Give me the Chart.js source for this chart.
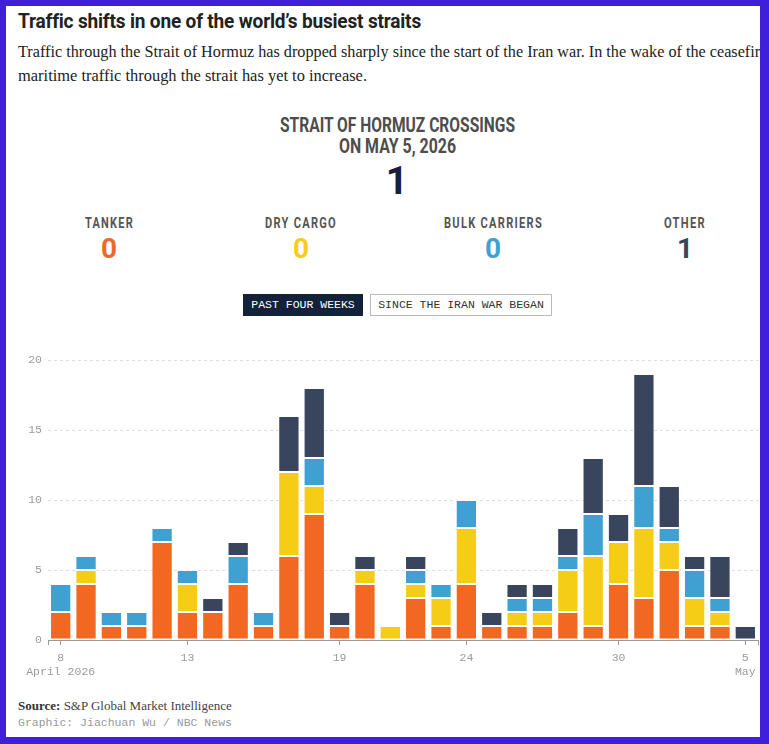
<!DOCTYPE html>
<html><head><meta charset="utf-8">
<script src="https://cdn.jsdelivr.net/npm/chart.js@4.4.1/dist/chart.umd.min.js"></script>
<style>
html,body{margin:0;padding:0;}
body{width:769px;height:744px;background:#3f1fd9;position:relative;overflow:hidden;}
#page{position:absolute;left:6px;top:6px;width:754px;height:731px;background:#fff;overflow:hidden;}
#c{position:absolute;left:-6px;top:-6px;width:769px;height:744px;}
.a{position:absolute;white-space:nowrap;line-height:1;transform-origin:0 0;}
.cond{font-family:Roboto,sans-serif;font-weight:700;}
#title{font-size:21px;color:#222;letter-spacing:-0.2px;}
.sub{font-family:"Liberation Serif",serif;font-size:16.5px;color:#222;line-height:24px;}
.hd{font-size:20px;color:#4d4d4d;}
.lab{font-family:Roboto,sans-serif;font-weight:700;font-size:14px;color:#555;letter-spacing:1.6px;}
.val{font-family:Roboto,sans-serif;font-weight:700;font-size:28px;transform:translateX(-50%);}
.btn{position:absolute;top:294px;height:22px;box-sizing:border-box;font-family:"Liberation Mono",monospace;font-size:11.5px;line-height:20px;text-align:center;white-space:nowrap;}
#b1{left:243px;width:120px;background:#14213a;color:#fff;border:1px solid #14213a;}
#b2{left:370px;width:182px;background:#fff;color:#333;border:1px solid #bbb;}
#chartWrap{position:absolute;left:0;top:340px;width:769px;height:350px;}
#src{font-family:"Liberation Serif",serif;font-size:13px;color:#444;}
#cred{font-family:"Liberation Mono",monospace;font-size:11.5px;color:#999;}
</style>
</head><body>
<div id="page"><div id="c">
  <div class="a cond" id="title">Traffic shifts in one of the world’s busiest straits</div>
  <div class="a sub" id="sub1" style="left:18px;top:40px;">Traffic through the Strait of Hormuz has dropped sharply since the start of the Iran war. In the wake of the ceasefire,</div>
  <div class="a sub" id="sub2" style="left:18px;top:64px;">maritime traffic through the strait has yet to increase.</div>

  <div class="a cond hd" id="h1">STRAIT OF HORMUZ CROSSINGS</div>
  <div class="a cond hd" id="h2"></div>
  <div class="a cond" id="total" style="font-size:39px;color:#14213a;top:162px;left:397px;transform:translateX(-50%);"></div>

  <div class="a lab" id="l0">TANKER</div>
  <div class="a lab" id="l1">DRY CARGO</div>
  <div class="a lab" id="l2">BULK CARRIERS</div>
  <div class="a lab" id="l3">OTHER</div>
  <div class="a val" id="v0"></div>
  <div class="a val" id="v1"></div>
  <div class="a val" id="v2"></div>
  <div class="a val" id="v3"></div>

  <div class="btn" id="b1">PAST FOUR WEEKS</div>
  <div class="btn" id="b2">SINCE THE IRAN WAR BEGAN</div>

  <div id="chartWrap"><canvas id="chart" width="769" height="350"></canvas></div>

  <div class="a" id="src" style="left:18px;top:699px;"><b style="color:#333">Source:</b> S&amp;P Global Market Intelligence</div>
  <div class="a" id="cred" style="left:18px;top:717px;">Graphic: Jiachuan Wu / NBC News</div>
</div></div>

<script>
// ---- data ----
const dates = ['8','9','10','11','12','13','14','15','16','17','18','19','20','21','22','23','24','25','26','27','28','29','30','1','2','3','4','5'];
const tanker   = [2,4,1,1,7,2,2,4,1,6,9,1,4,0,3,1,4,1,1,1,2,1,4,3,5,1,1,0];
const dryCargo = [0,1,0,0,0,2,0,0,0,6,2,0,1,1,1,2,4,0,1,1,3,5,3,5,2,2,1,0];
const bulk     = [2,1,1,1,1,1,0,2,1,0,2,0,0,0,1,1,2,0,1,1,1,3,0,3,1,2,1,0];
const other    = [0,0,0,0,0,0,1,1,0,4,5,1,1,0,1,0,0,1,1,1,2,4,2,8,3,1,3,1];
const seriesNames = ['Tanker','Dry cargo','Bulk carriers','Other'];
const seriesColors = ['#f26722','#f5cd17','#3fa0d2','#39445d'];
const tickDays = ['8','13','19','24','30','5'];
const tickSub  = ['April 2026','','','','','May'];
const yTicks = [0,5,10,15,20];
const lastDateLabel = 'ON MAY 5, 2026';

// ---- header ----
function place(id, left, width){
  const el = document.getElementById(id);
  el.style.left = left + 'px';
  const w = el.getBoundingClientRect().width;
  el.style.transform = 'scaleX(' + (width / w) + ')';
  return width / w;
}
const t = document.getElementById('title'); t.style.top = '11px';
place('title', 18, 403);
const s2 = document.getElementById('sub2');
const sc = 349 / s2.getBoundingClientRect().width;
s2.style.transform = 'scaleX(' + sc + ')';
document.getElementById('sub1').style.transform = 'scaleX(' + (sc * 0.985) + ')';

document.getElementById('h2').textContent = lastDateLabel;
document.getElementById('h1').style.top = '115px';
document.getElementById('h2').style.top = '136px';
place('h1', 280, 235);
place('h2', 339, 117);

const series = [tanker, dryCargo, bulk, other];
const last = series.map(s => s[s.length - 1]);
document.getElementById('total').textContent = last.reduce((a, b) => a + b, 0);
const labPos = [[85,49],[265,72],[444,99],[664,42]];
const centers = [109,301,493,685];
labPos.forEach((p, i) => {
  document.getElementById('l' + i).style.top = '216px';
  place('l' + i, p[0], p[1]);
  const v = document.getElementById('v' + i);
  v.textContent = last[i];
  v.style.color = seriesColors[i];
  v.style.top = '235px';
  v.style.left = centers[i] + 'px';
});

// ---- chart ----
const endTicks = {
  id: 'endTicks',
  afterDraw(chart) {
    const ctx = chart.ctx, a = chart.chartArea;
    ctx.save();
    ctx.strokeStyle = '#999';
    ctx.lineWidth = 1;
    ctx.beginPath();
    [a.left, a.right].forEach(x => {
      const xx = Math.round(x) + 0.5;
      ctx.moveTo(xx, a.bottom); ctx.lineTo(xx, a.bottom + 5);
    });
    ctx.stroke();
    ctx.restore();
  }
};

new Chart(document.getElementById('chart'), {
  type: 'bar',
  data: {
    labels: dates,
    datasets: series.map((s, i) => ({
      label: seriesNames[i],
      data: s.map(v => v === 0 ? null : v),
      backgroundColor: seriesColors[i],
      borderColor: 'rgba(255,255,255,0.55)',
      borderWidth: 1,
      borderSkipped: false,
      barPercentage: 0.84,
      categoryPercentage: 1
    }))
  },
  options: {
    responsive: false,
    animation: false,
    layout: { padding: { left: 0, right: 11, top: 20, bottom: 0 } },
    plugins: { legend: { display: false }, tooltip: { enabled: false } },
    scales: {
      x: {
        stacked: true,
        offset: true,
        afterFit(scale) { scale.height = 50; },
        grid: {
          offset: false,
          drawOnChartArea: false,
          drawTicks: true,
          tickLength: 5,
          color: ctx => tickDays.includes(dates[ctx.index]) ? '#999' : 'rgba(0,0,0,0)'
        },
        border: { display: true, color: '#999', width: 1 },
        ticks: {
          autoSkip: false,
          maxRotation: 0,
          padding: 6,
          color: '#9a9a9a',
          font: { family: '"Liberation Mono", monospace', size: 11.5, lineHeight: 1.2 },
          callback: (v, i) => {
            const k = tickDays.indexOf(dates[i]);
            if (k < 0) return '';
            return tickSub[k] ? [tickDays[k], tickSub[k]] : tickDays[k];
          }
        }
      },
      y: {
        stacked: true,
        min: 0, max: 20,
        afterFit(scale) { scale.width = 48; },
        afterBuildTicks(scale) { scale.ticks = yTicks.map(v => ({ value: v })); },
        grid: { color: '#ddd', drawTicks: false, lineWidth: 1 },
        border: { display: false, dash: [3, 3] },
        ticks: {
          padding: 6,
          color: '#9a9a9a',
          font: { family: '"Liberation Mono", monospace', size: 11.5 }
        }
      }
    }
  },
  plugins: [endTicks]
});
</script>
</body></html>
